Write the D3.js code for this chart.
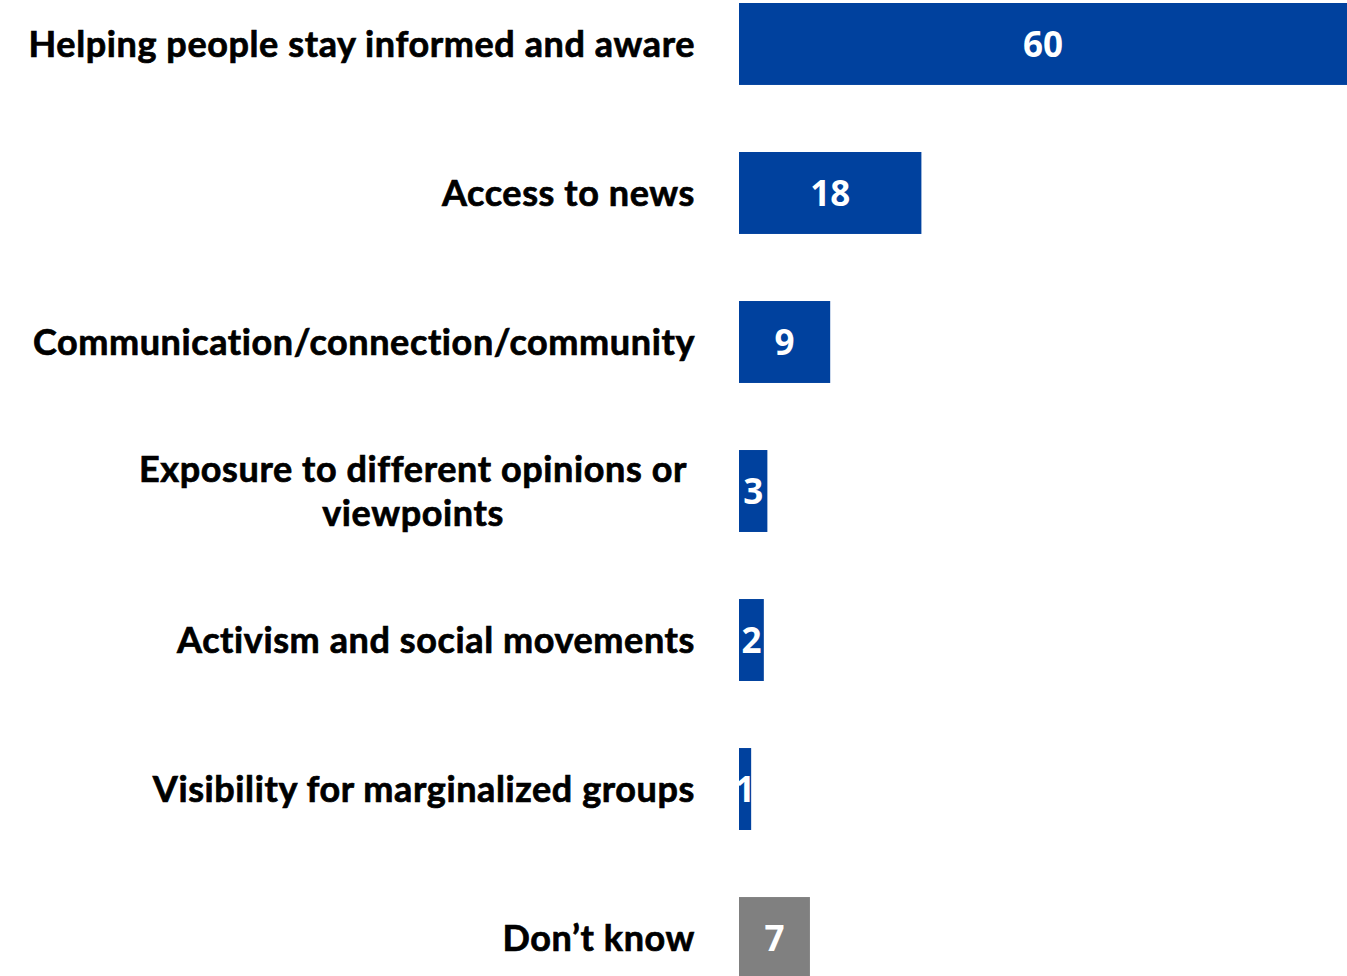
<!DOCTYPE html>
<html><head><meta charset="utf-8">
<script src="https://cdn.jsdelivr.net/npm/d3@7"></script>
<style>html,body{margin:0;padding:0;background:#fff;overflow:hidden}</style>
</head><body>
<svg id="chart" width="1347" height="976"></svg>
<script>
const categories = [
  "Helping people stay informed and aware",
  "Access to news",
  "Communication/connection/community",
  "Exposure to different opinions or|viewpoints",
  "Activism and social movements",
  "Visibility for marginalized groups",
  "Don\u2019t know"
];
const values = [60, 18, 9, 2.8, 2.45, 1.2, 7];
const colors = ["#00419e","#00419e","#00419e","#00419e","#00419e","#00419e","#808080"];

const svg = d3.select("#chart");
const labelFont = "Lato, 'Open Sans', sans-serif";
const valueFont = "'Open Sans', Lato, sans-serif";
const x = d3.scaleLinear().domain([0, 60]).range([739, 1347]);
const y = d3.scaleBand().domain(categories).range([3, 979]).paddingInner(0.45).paddingOuter(0);

const rows = svg.selectAll("g.row").data(categories).join("g").attr("class","row");
rows.append("rect")
  .attr("x", x(0)).attr("y", d => y(d))
  .attr("width", (d,i) => x(values[i]) - x(0))
  .attr("height", y.bandwidth())
  .attr("fill", (d,i) => colors[i]);
rows.append("text")
  .attr("x", (d,i) => (x(0) + x(values[i]))/2)
  .attr("y", d => y(d) + y.bandwidth()/2)
  .attr("dy", "0.36em")
  .attr("text-anchor","middle")
  .attr("fill","#fff")
  .attr("font-family", valueFont).attr("font-weight", 700).attr("font-size", 35)
  .text((d,i) => d3.format(".0f")(values[i]));

const labelX = 695;
rows.each(function(d){
  const g = d3.select(this);
  const lines = d.split("|");
  const cy = y(d) + y.bandwidth()/2;
  const t = g.append("text")
    .attr("font-family", labelFont).attr("font-weight", 700).attr("font-size", 36)
    .attr("letter-spacing", 0.6)
    .attr("fill","#000").attr("stroke","#000").attr("stroke-width",0.7);
  if (lines.length === 1) {
    t.attr("x", labelX).attr("y", cy).attr("dy","0.36em").attr("text-anchor","end").text(lines[0]);
  } else {
    const tmp = t.append("tspan").text(lines[0]);
    const w = tmp.node().getComputedTextLength();
    tmp.remove();
    const cx = labelX - 8 - w/2;
    const lh = 44;
    lines.forEach((ln, k) => {
      t.append("tspan").attr("x", cx).attr("text-anchor","middle")
        .attr("y", cy + (k - (lines.length-1)/2)*lh).attr("dy","0.36em").text(ln);
    });
  }
});
</script>
</body></html>
